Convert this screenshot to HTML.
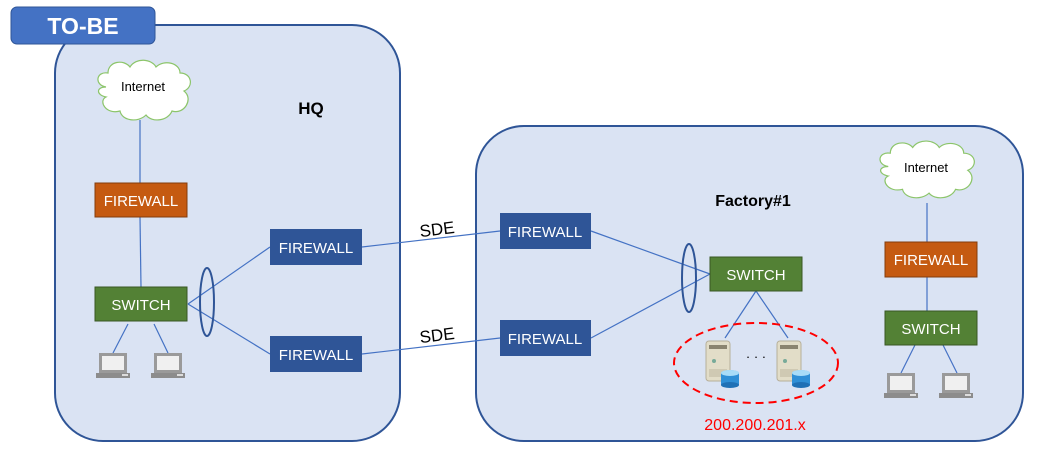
<!DOCTYPE html>
<html><head><meta charset="utf-8"><style>
body{margin:0;background:#fff;}
svg{display:block;font-family:"Liberation Sans",sans-serif;}
</style></head><body>
<svg width="1040" height="460" viewBox="0 0 1040 460">
<defs>
<g id="lap">
<rect x="3" y="0" width="28" height="20" fill="#9a9a9a"/>
<rect x="6" y="3" width="22" height="14" fill="#f0f0f0"/>
<rect x="0" y="20" width="34" height="5" fill="#8c8c8c"/>
<rect x="26" y="21" width="6" height="2" fill="#ddd"/>
</g>
<g id="srv">
<rect x="0" y="0" width="24" height="40" rx="3" fill="#e2ddc8" stroke="#b7b09a"/>
<rect x="3" y="4" width="18" height="4" fill="#8a8470"/>
<circle cx="8" cy="20" r="2" fill="#7a9"/>
<rect x="3" y="28" width="18" height="8" fill="#cfc9b3"/>
<ellipse cx="24" cy="32" rx="9" ry="3" fill="#7cc0ec"/>
<rect x="15" y="32" width="18" height="12" fill="#2f8fd6"/>
<ellipse cx="24" cy="44" rx="9" ry="3" fill="#1f70b5"/>
<ellipse cx="24" cy="32" rx="9" ry="3" fill="#a8dcf8"/>
</g>
<g id="cloud">
<path d="M12,30 C0,28 2,14 14,16 C14,4 30,2 36,10 C42,0 58,2 62,10 C70,2 86,6 86,16 C98,16 100,30 90,34 C100,42 90,58 78,54 C74,64 58,66 52,58 C44,66 28,64 26,54 C12,58 4,44 12,40 C2,38 2,30 12,30 Z" fill="#fff" stroke="#8cc56a" stroke-width="1.2"/>
</g>
</defs>
<rect x="55" y="25" width="345" height="416" rx="48" fill="#dae3f3" stroke="#2f5597" stroke-width="2"/>
<rect x="476" y="126" width="547" height="315" rx="48" fill="#dae3f3" stroke="#2f5597" stroke-width="2"/>
<rect x="11" y="7" width="144" height="37" rx="6" fill="#4472c4" stroke="#2f5597"/>
<text x="83" y="34" font-size="23" font-weight="bold" fill="#fff" text-anchor="middle">TO-BE</text>
<g stroke="#4472c4" stroke-width="1.2" fill="none">
<line x1="140" y1="120" x2="140" y2="183"/>
<line x1="140" y1="217" x2="141" y2="287"/>
<line x1="128" y1="324" x2="113" y2="353"/>
<line x1="154" y1="324" x2="168" y2="353"/>
<line x1="188" y1="304" x2="270" y2="247"/>
<line x1="188" y1="304" x2="270" y2="354"/>
<line x1="362" y1="247" x2="500" y2="231"/>
<line x1="362" y1="354" x2="500" y2="338"/>
<line x1="591" y1="231" x2="710" y2="274"/>
<line x1="591" y1="338" x2="710" y2="274"/>
<line x1="756" y1="291" x2="725" y2="338"/>
<line x1="756" y1="291" x2="788" y2="338"/>
<line x1="927" y1="203" x2="927" y2="242"/>
<line x1="927" y1="277" x2="927" y2="311"/>
<line x1="915" y1="345" x2="901" y2="373"/>
<line x1="943" y1="345" x2="957" y2="373"/>
</g>
<ellipse cx="207" cy="302" rx="7" ry="34" fill="none" stroke="#2f5597" stroke-width="2"/>
<ellipse cx="689" cy="278" rx="7" ry="34" fill="none" stroke="#2f5597" stroke-width="2"/>
<use href="#cloud" transform="translate(94,57)"/>
<use href="#cloud" transform="translate(876,138) scale(1.02,0.95)"/>
<text x="143" y="91" font-size="13" text-anchor="middle">Internet</text>
<text x="926" y="172" font-size="13" text-anchor="middle">Internet</text>
<text x="311" y="114" font-size="17" font-weight="bold" text-anchor="middle">HQ</text>
<text x="753" y="206" font-size="16" font-weight="bold" text-anchor="middle">Factory#1</text>
<g font-size="15" fill="#fff" text-anchor="middle">
<rect x="95" y="183" width="92" height="34" fill="#c55a11" stroke="#843c0c"/><text x="141" y="206">FIREWALL</text>
<rect x="95" y="287" width="92" height="34" fill="#538135" stroke="#385723"/><text x="141" y="310">SWITCH</text>
<rect x="270" y="229" width="92" height="36" fill="#2f5597"/><text x="316" y="253">FIREWALL</text>
<rect x="270" y="336" width="92" height="36" fill="#2f5597"/><text x="316" y="360">FIREWALL</text>
<rect x="500" y="213" width="91" height="36" fill="#2f5597"/><text x="545" y="237">FIREWALL</text>
<rect x="500" y="320" width="91" height="36" fill="#2f5597"/><text x="545" y="344">FIREWALL</text>
<rect x="710" y="257" width="92" height="34" fill="#538135" stroke="#385723"/><text x="756" y="280">SWITCH</text>
<rect x="885" y="242" width="92" height="35" fill="#c55a11" stroke="#843c0c"/><text x="931" y="265">FIREWALL</text>
<rect x="885" y="311" width="92" height="34" fill="#538135" stroke="#385723"/><text x="931" y="334">SWITCH</text>
</g>
<text x="437" y="235" font-size="17" text-anchor="middle" transform="rotate(-7 437 229)">SDE</text>
<text x="437" y="341" font-size="17" text-anchor="middle" transform="rotate(-7 437 335)">SDE</text>
<use href="#lap" x="96" y="353"/>
<use href="#lap" x="151" y="353"/>
<use href="#lap" x="884" y="373"/>
<use href="#lap" x="939" y="373"/>
<use href="#srv" x="706" y="341"/>
<use href="#srv" x="777" y="341"/>
<text x="756" y="361" font-size="13" text-anchor="middle">· · ·</text>
<ellipse cx="756" cy="363" rx="82" ry="40" fill="none" stroke="#f00" stroke-width="2" stroke-dasharray="8,5"/>
<text x="755" y="430" font-size="16" fill="#f00" text-anchor="middle">200.200.201.x</text>
</svg>
</body></html>
